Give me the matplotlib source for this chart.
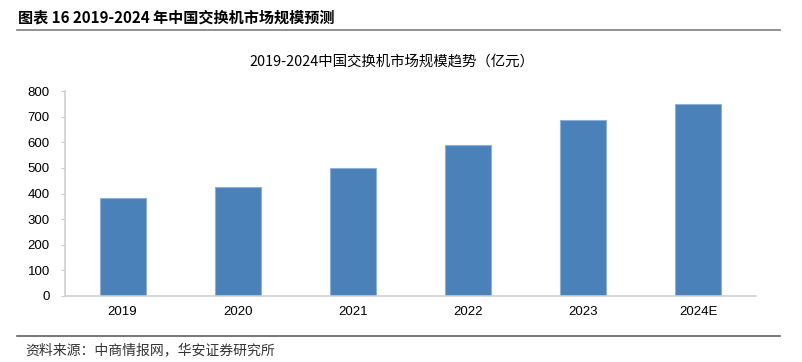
import matplotlib
matplotlib.use("Agg")
import matplotlib.pyplot as plt
from matplotlib.lines import Line2D

categories = ["2019", "2020", "2021", "2022", "2023", "2024E"]
values = [381, 427, 501, 591, 686, 749]
yticks = [0, 100, 200, 300, 400, 500, 600, 700, 800]

W, H = 802, 362
fig = plt.figure(figsize=(W / 100, H / 100), dpi=100)
fig.patch.set_facecolor("white")

ax = fig.add_axes([65 / W, 1 - 296 / H, (756 - 65) / W, (296 - 91) / H])
x = list(range(len(categories)))
ax.bar(x, values, width=0.4, color="#4a81b9", edgecolor="#8fb0d6", linewidth=0.8, zorder=2)
ax.set_xlim(-0.5, len(categories) - 0.5)
ax.set_ylim(0, 800)
ax.set_yticks(yticks)
ax.set_yticklabels([str(t) for t in yticks], family="Liberation Sans", fontsize=9.5, color="#000000")
ax.set_xticks(x)
ax.set_xticklabels(categories, family="Liberation Sans", fontsize=9.5, color="#000000")
for s in ["top", "right"]:
    ax.spines[s].set_visible(False)
for s in ["left", "bottom"]:
    ax.spines[s].set_color("#cfcfcf")
    ax.spines[s].set_linewidth(1.2)
ax.tick_params(axis="y", length=3, color="#cfcfcf", pad=8)
ax.tick_params(axis="x", length=0, pad=7)

fig.text(392 / W, 1 - 62 / H, "2019-2024中国交换机市场规模趋势（亿元）",
         family=["Noto Sans CJK SC", "DejaVu Sans"], fontsize=10.4, ha="center", va="center", color="#000000")

fig.text(18 / W, 1 - 18 / H, "图表 16 2019-2024 年中国交换机市场规模预测",
         family=["Noto Sans CJK SC", "DejaVu Sans"], fontsize=10.9, fontweight="bold",
         ha="left", va="center", color="#000000")
fig.add_artist(Line2D([17 / W, 780 / W], [1 - 30 / H, 1 - 30 / H], color="#7f7f7f", linewidth=1.2))
fig.add_artist(Line2D([17 / W, 780 / W], [1 - 336 / H, 1 - 336 / H], color="#5f5f5f", linewidth=1.2))
fig.text(25 / W, 1 - 350 / H, "资料来源：中商情报网，华安证券研究所",
         family=["Noto Sans CJK SC", "DejaVu Sans"], fontsize=10, ha="left", va="center", color="#333333")

fig.savefig("out.png", dpi=100, facecolor="white")
